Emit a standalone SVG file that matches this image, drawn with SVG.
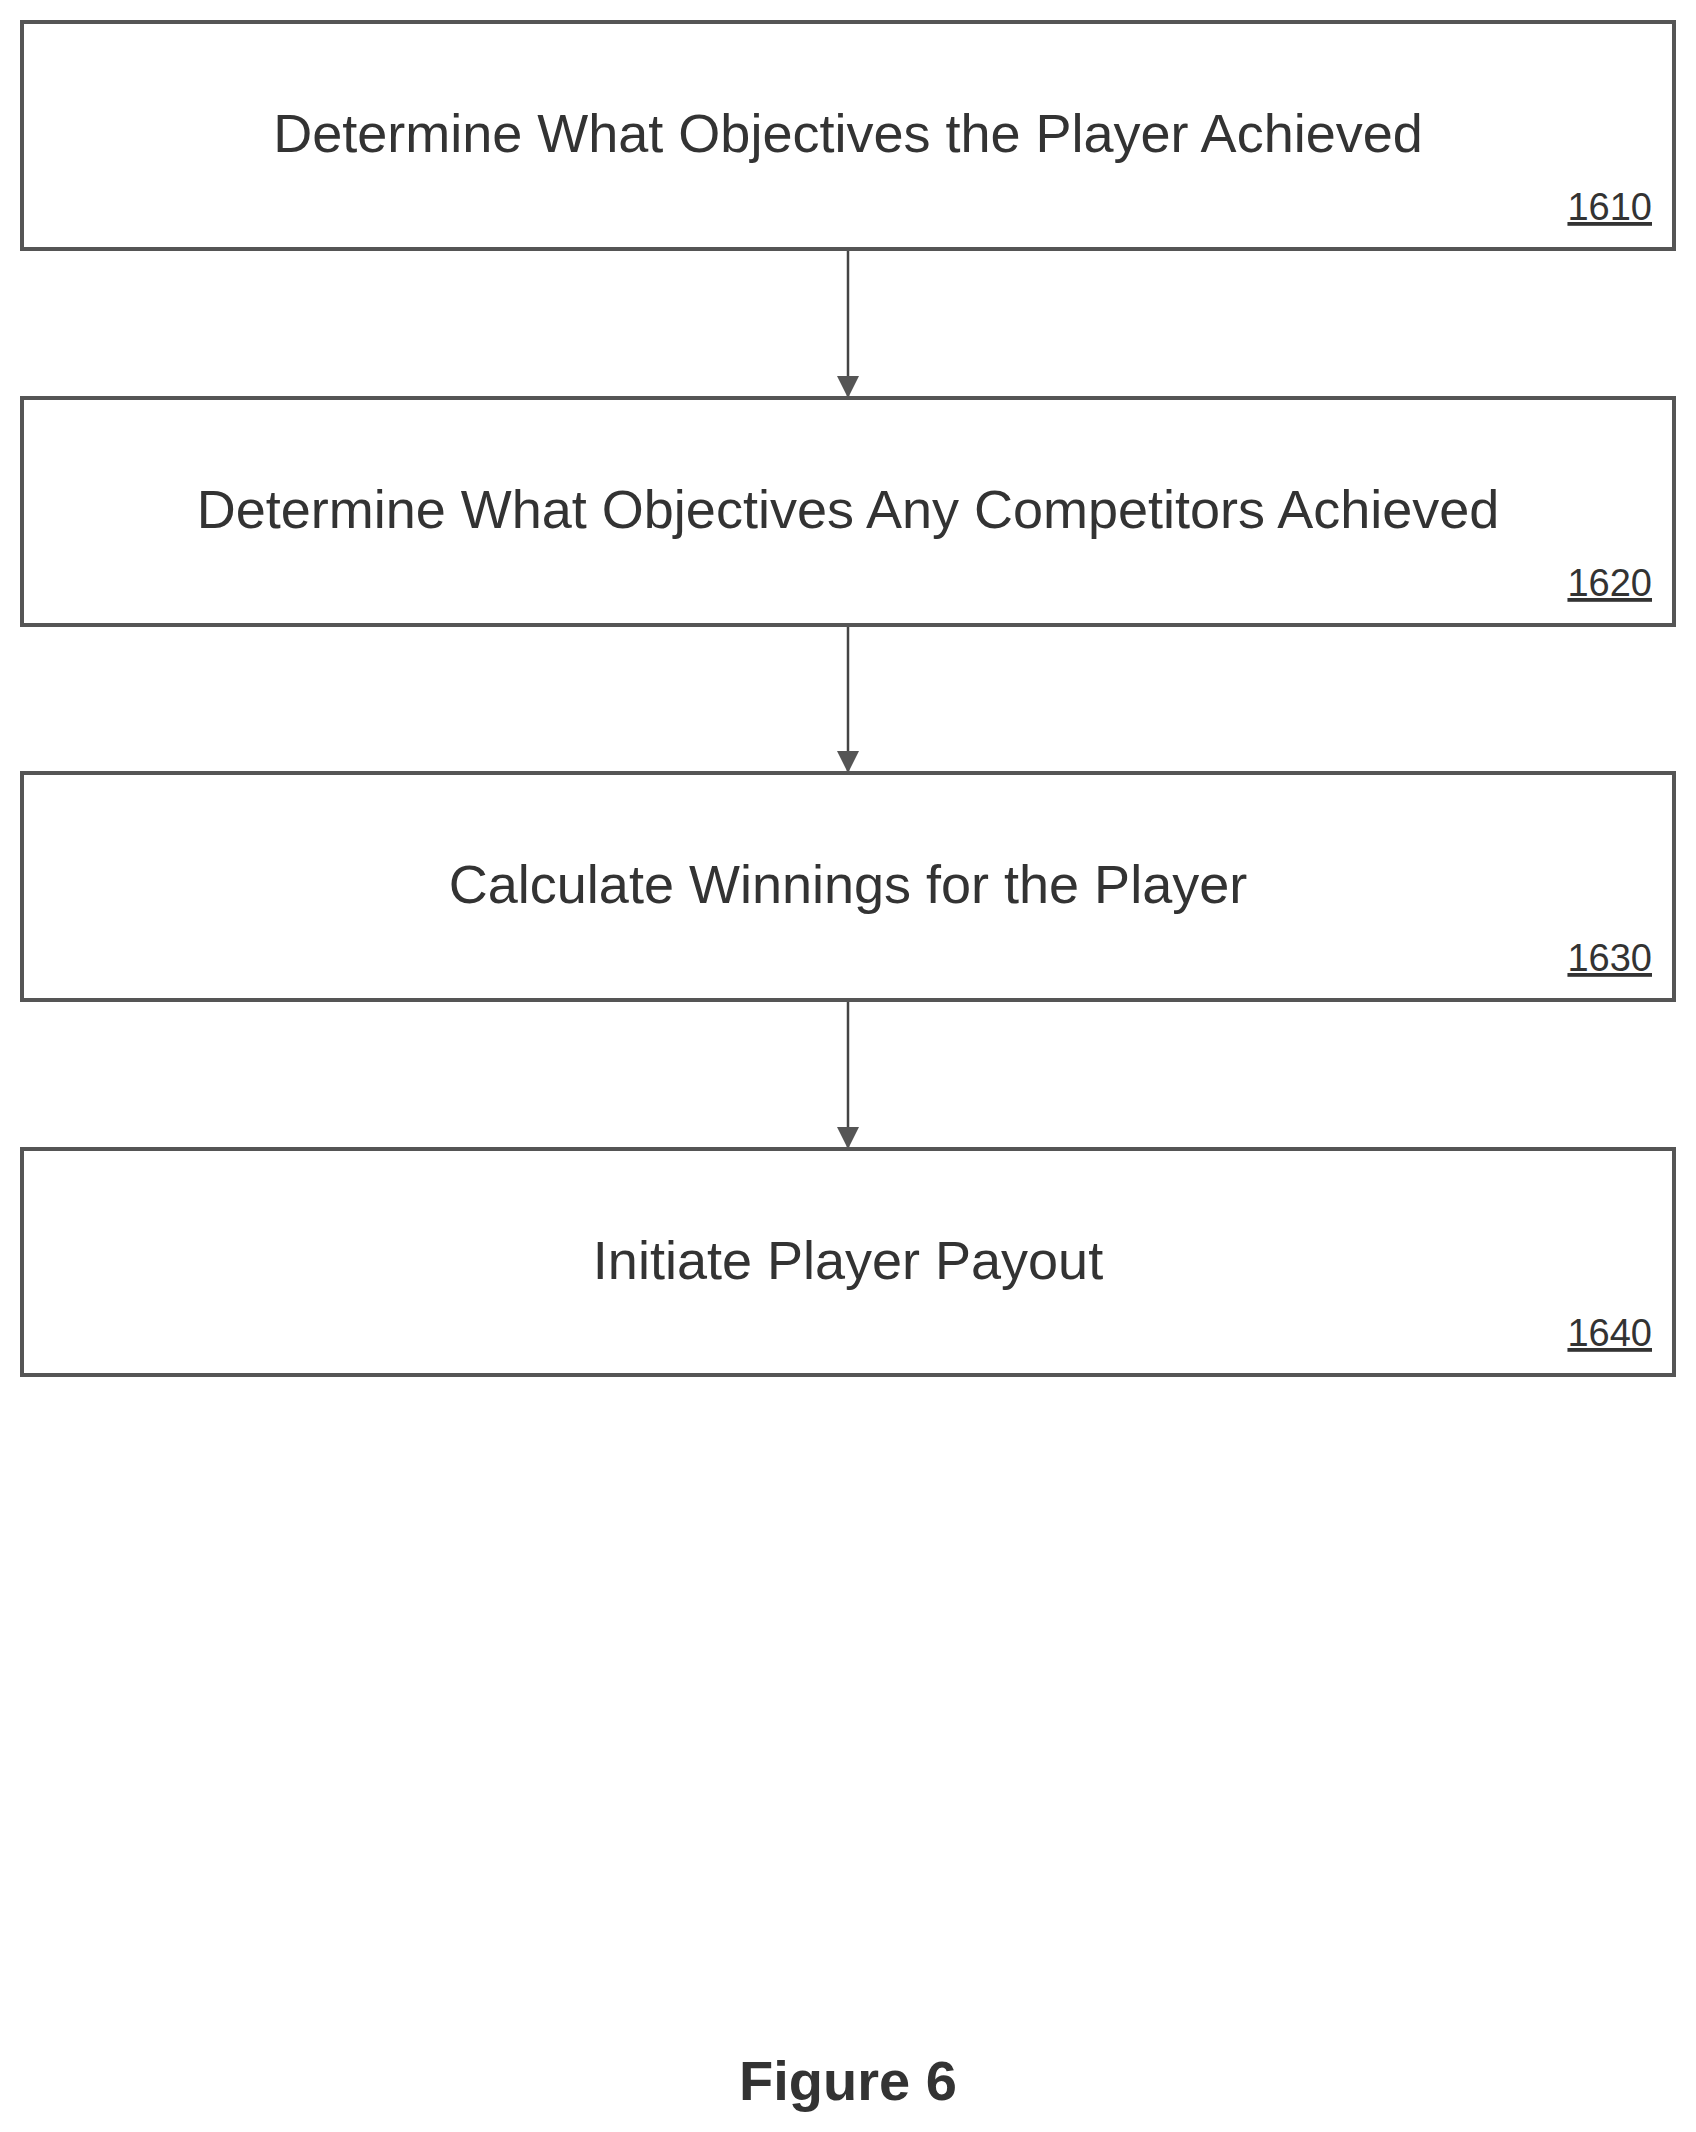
<svg xmlns="http://www.w3.org/2000/svg" width="1696" height="2132" viewBox="0 0 1696 2132">
<style>
.box{fill:#fff;stroke:#555;stroke-width:4}
.t{font-family:"Liberation Sans",Arial,sans-serif;font-size:54px;fill:#333;text-anchor:middle}
.n{font-family:"Liberation Sans",Arial,sans-serif;font-size:38px;fill:#333;text-anchor:end;text-decoration:underline}
.c{stroke:#444;stroke-width:2.5;fill:none;marker-end:url(#a)}
</style>
<defs><marker id="a" markerWidth="22" markerHeight="22" refX="20" refY="11" orient="auto" markerUnits="userSpaceOnUse" viewBox="0 0 22 22"><path d="M0,0 L22,11 L0,22 z" fill="#555"/></marker></defs>
<rect width="1696" height="2132" fill="#fff"/>
<g id="n1610"><rect class="box" x="22" y="22" width="1652" height="227"/><text class="t" x="848" y="152">Determine What Objectives the Player Achieved</text><text class="n" x="1652" y="220">1610</text></g>
<g id="n1620"><rect class="box" x="22" y="398" width="1652" height="227"/><text class="t" x="848" y="528">Determine What Objectives Any Competitors Achieved</text><text class="n" x="1652" y="596">1620</text></g>
<g id="n1630"><rect class="box" x="22" y="773" width="1652" height="227"/><text class="t" x="848" y="903">Calculate Winnings for the Player</text><text class="n" x="1652" y="971">1630</text></g>
<g id="n1640"><rect class="box" x="22" y="1149" width="1652" height="226"/><text class="t" x="848" y="1279">Initiate Player Payout</text><text class="n" x="1652" y="1346">1640</text></g>
<g id="connectors">
<line class="c" x1="848" y1="251" x2="848" y2="396"/>
<line class="c" x1="848" y1="627" x2="848" y2="771"/>
<line class="c" x1="848" y1="1002" x2="848" y2="1147"/>
</g>
<text x="848" y="2100" font-family="Liberation Sans,Arial,sans-serif" font-size="56" font-weight="bold" fill="#333" text-anchor="middle">Figure 6</text>
</svg>
